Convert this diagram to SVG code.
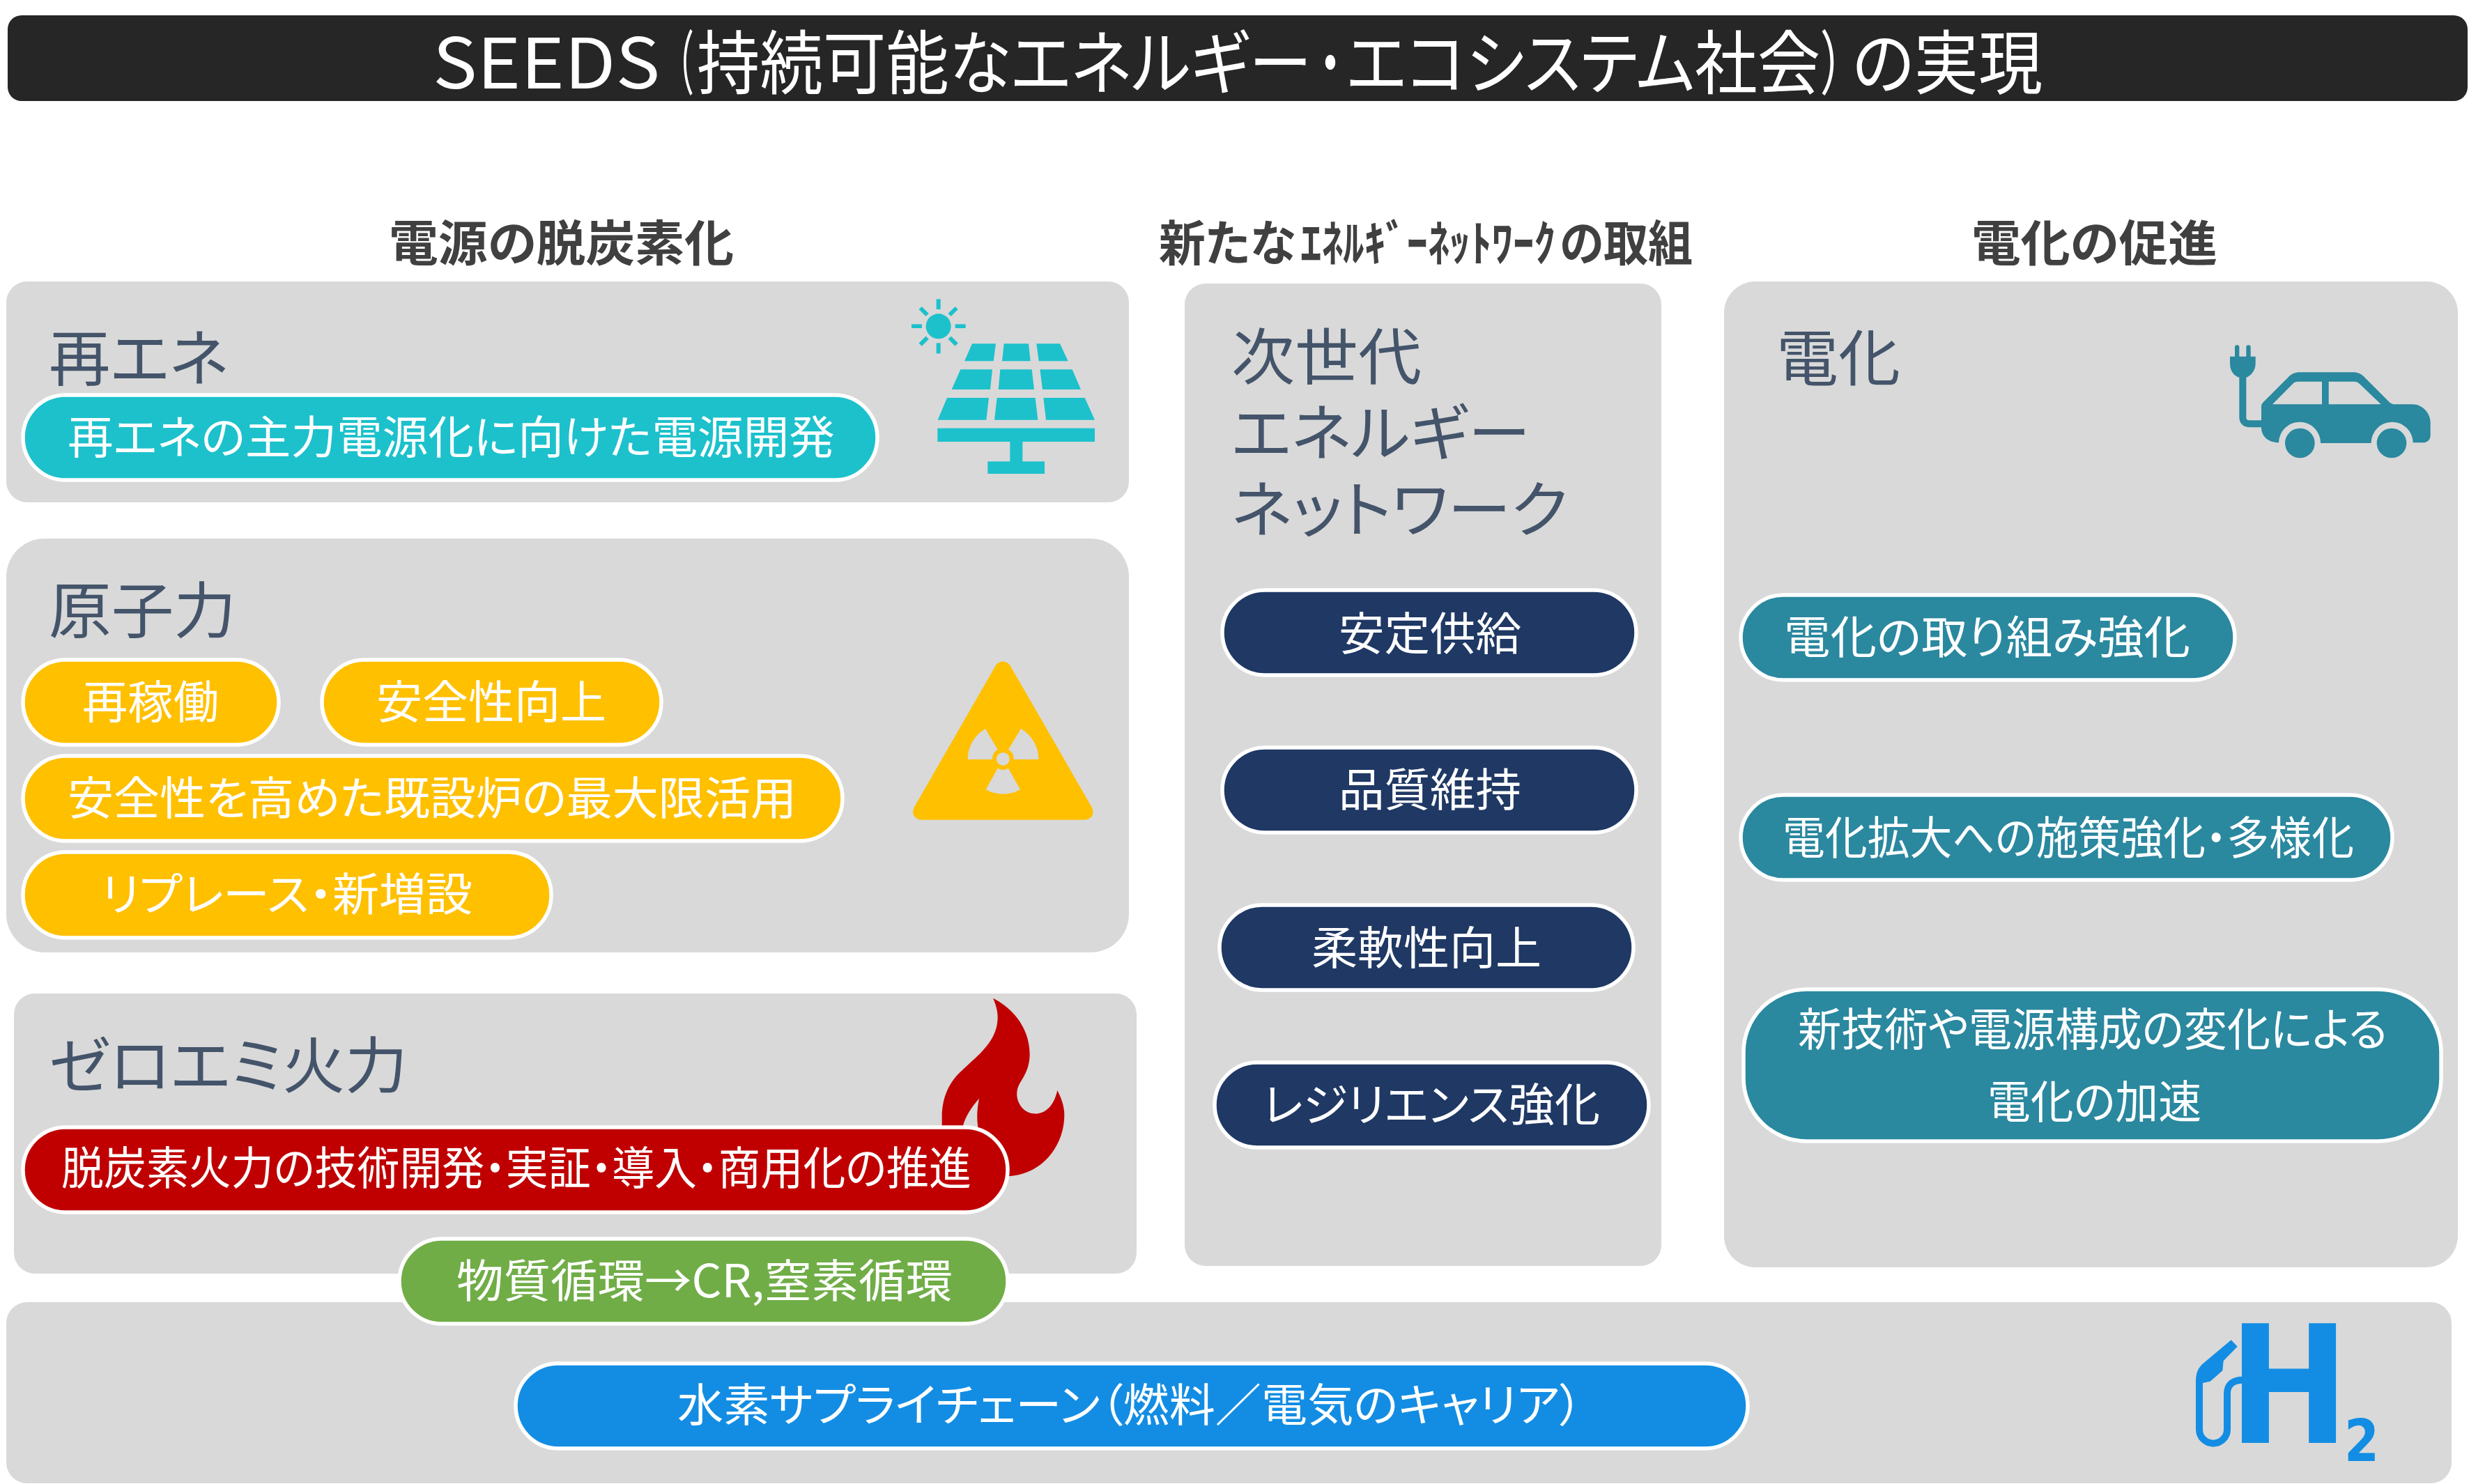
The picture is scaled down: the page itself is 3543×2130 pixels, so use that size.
<svg xmlns="http://www.w3.org/2000/svg" width="3543" height="2130" viewBox="0 0 3543 2130">
<style>
text{font-family:"Noto Sans CJK JP","Noto Sans",sans-serif;font-feature-settings:"palt";}
.panel{fill:#d9d9d9}
.pill{stroke:#fff;stroke-width:5.5}
.pt{fill:#fff;font-size:65px}
.hd{fill:#44546a;font-size:88px}
.sec{fill:#404040;font-size:70px;font-weight:700}
.ttl{fill:#fff;font-size:100px}
.teal{fill:#1cc1cc}.yel{fill:#ffc000}.red{fill:#c00000}.grn{fill:#70ad47}.blu{fill:#138de3}.nav{fill:#1f3864}.tea2{fill:#2a889f}
</style>
<rect width="3543" height="2130" fill="#fff"/>
<g id="title"><rect x="11" y="22" width="3530" height="123" rx="20" fill="#262626"/>
<text class="ttl" y="127"><tspan x="621" textLength="326" lengthAdjust="spacingAndGlyphs">SEEDS</tspan><tspan x="970" textLength="24" lengthAdjust="spacingAndGlyphs">（</tspan><tspan x="1000" textLength="882" lengthAdjust="spacingAndGlyphs">持続可能なエネルギー</tspan><tspan x="1892" textLength="34" lengthAdjust="spacingAndGlyphs">・</tspan><tspan x="1932" textLength="680" lengthAdjust="spacingAndGlyphs">エコシステム社会</tspan><tspan x="2614" textLength="32" lengthAdjust="spacingAndGlyphs">）</tspan><tspan x="2658" textLength="273" lengthAdjust="spacingAndGlyphs">の実現</tspan></text></g>
<g id="sections">
<text class="sec" x="558" y="375" textLength="495" lengthAdjust="spacingAndGlyphs">電源の脱炭素化</text>
<text class="sec" y="375"><tspan x="1663" textLength="196" lengthAdjust="spacingAndGlyphs">新たな</tspan><tspan x="1866" textLength="366" lengthAdjust="spacingAndGlyphs">ｴﾈﾙｷﾞｰﾈｯﾄﾜｰｸ</tspan><tspan x="2238" textLength="191" lengthAdjust="spacingAndGlyphs">の取組</tspan></text>
<text class="sec" x="2829" y="375" textLength="353" lengthAdjust="spacingAndGlyphs">電化の促進</text>
</g>
<g id="panel-renewable">
<rect class="panel" x="9" y="404" width="1611" height="317" rx="30"/>
<text class="hd" x="70" y="546" textLength="258" lengthAdjust="spacingAndGlyphs">再エネ</text>
<g transform="translate(1250,380) scale(.33333)" class="teal">
<circle cx="290" cy="265" r="54"/>
<rect x="281" y="148" width="18" height="44"/><rect x="281" y="337" width="18" height="45"/><rect x="174" y="256" width="45" height="17"/><rect x="362" y="256" width="45" height="17"/>
<path d="M212,186L242,216M368,186L338,216M212,344L242,314M368,344L338,314" stroke="#1cc1cc" stroke-width="18" fill="none"/>
<path d="M435,340H537L527,415H402ZM572,340H678L686,415H564ZM712,340H813L848,415H722ZM385,451H522L513,537H347ZM556,451H692L702,537H548ZM727,451H866L903,537H738ZM327,573H507L496,668H287ZM542,573H707L718,668H531ZM742,573H920L963,668H753Z"/>
<rect x="286" y="704" width="677" height="58"/><rect x="598" y="760" width="54" height="90"/><rect x="502" y="847" width="245" height="53"/>
</g>
<rect class="pill teal" x="33" y="567" width="1226" height="122" rx="61"/>
<text class="pt" x="97" y="651" textLength="1101" lengthAdjust="spacingAndGlyphs">再エネの主力電源化に向けた電源開発</text>
</g>
<g id="panel-nuclear">
<rect class="panel" x="9" y="773" width="1611" height="594" rx="55"/>
<text class="hd" x="70" y="908" textLength="269" lengthAdjust="spacingAndGlyphs">原子力</text>
<g transform="translate(1280,920) scale(.33333)">
<path class="yel" d="M445,108C460,82 495,82 510,108L857,710C878,745 858,770 825,770L130,770C100,770 78,745 98,712Z"/>
<path class="panel" d="M326,510A152,152 0 0 1 402,378L455,468A46,46 0 0 0 432,510ZM555,378A152,152 0 0 1 631,510L524,510A46,46 0 0 0 501,468ZM552,640A152,152 0 0 1 404,640L455,548A46,46 0 0 0 501,548Z"/>
<circle class="panel" cx="478" cy="508" r="28"/>
</g>
<rect class="pill yel" x="33" y="947" width="367" height="122" rx="61"/>
<text class="pt" x="118" y="1031" textLength="196" lengthAdjust="spacingAndGlyphs">再稼働</text>
<rect class="pill yel" x="462" y="947" width="487" height="122" rx="61"/>
<text class="pt" x="540" y="1031" textLength="330" lengthAdjust="spacingAndGlyphs">安全性向上</text>
<rect class="pill yel" x="33" y="1085" width="1176" height="122" rx="61"/>
<text class="pt" x="97" y="1169" textLength="1046" lengthAdjust="spacingAndGlyphs">安全性を高めた既設炉の最大限活用</text>
<rect class="pill yel" x="33" y="1223" width="758" height="123" rx="61"/>
<text class="pt" x="145" y="1307" textLength="533" lengthAdjust="spacingAndGlyphs">リプレース・新増設</text>
</g>
<g id="panel-thermal">
<rect class="panel" x="20" y="1426" width="1611" height="402" rx="30"/>
<text class="hd" x="70" y="1561" textLength="515" lengthAdjust="spacingAndGlyphs">ゼロエミ火力</text>
<g transform="translate(1300,1400) scale(.33333)">
<path class="red" d="M375,98C440,130 533,210 533,340C533,400 505,440 490,465C470,500 475,540 500,570C535,610 625,615 652,495C670,530 682,565 682,600C682,740 580,860 440,865L240,865L310,650C305,620 305,580 315,530C280,570 255,610 245,650L155,650L155,610C155,520 190,460 230,420C300,350 395,290 395,180C395,150 385,120 375,98Z"/>
</g>
<rect class="pill red" x="33" y="1618" width="1413" height="122" rx="61"/>
<text class="pt" x="88" y="1700" textLength="1306" lengthAdjust="spacingAndGlyphs">脱炭素火力の技術開発・実証・導入・商用化の推進</text>
</g>
<g id="panel-network">
<rect class="panel" x="1700" y="407" width="684" height="1410" rx="30"/>
<text class="hd" x="1767" y="544" textLength="273" lengthAdjust="spacingAndGlyphs">次世代</text>
<text class="hd" x="1767" y="653" textLength="429" lengthAdjust="spacingAndGlyphs">エネルギー</text>
<text class="hd" x="1767" y="763" textLength="483" lengthAdjust="spacingAndGlyphs">ネットワーク</text>
<rect class="pill nav" x="1754" y="847" width="594" height="122" rx="61"/>
<text class="pt" x="1921" y="933" textLength="262" lengthAdjust="spacingAndGlyphs">安定供給</text>
<rect class="pill nav" x="1754" y="1073" width="594" height="122" rx="61"/>
<text class="pt" x="1921" y="1157" textLength="262" lengthAdjust="spacingAndGlyphs">品質維持</text>
<rect class="pill nav" x="1750" y="1299" width="594" height="122" rx="61"/>
<text class="pt" x="1882" y="1384" textLength="330" lengthAdjust="spacingAndGlyphs">柔軟性向上</text>
<rect class="pill nav" x="1743" y="1525" width="623" height="122" rx="61"/>
<text class="pt" x="1812" y="1609" textLength="484" lengthAdjust="spacingAndGlyphs">レジリエンス強化</text>
</g>
<g id="panel-electrification">
<rect class="panel" x="2474" y="404" width="1053" height="1415" rx="45"/>
<text class="hd" x="2549" y="546" textLength="178" lengthAdjust="spacingAndGlyphs">電化</text>
<g transform="translate(3130,450) scale(.33333)">
<path class="tea2" fill-rule="evenodd" d="M345,400C345,390 350,385 355,380L460,275C475,260 490,253 510,253L740,253C760,253 775,260 790,275L895,380C903,388 910,391 925,391L995,391C1040,391 1073,430 1073,470L1073,525C1073,545 1058,556 1040,556L998,556A90,90 0 0 0 818,558L600,558A90,90 0 0 0 420,556C375,556 345,530 345,490ZM393,391L480,303C487,296 493,293 503,293L606,293L606,391ZM635,293L745,293C755,293 760,295 768,303L860,391L635,391Z"/>
<circle class="tea2" cx="511" cy="558" r="64"/><circle class="tea2" cx="906" cy="558" r="64"/>
<rect class="tea2" x="231" y="136" width="19" height="60" rx="9"/><rect class="tea2" x="280" y="136" width="19" height="60" rx="9"/>
<path class="tea2" d="M210,185L320,185L320,215C320,250 295,270 280,275L250,275C230,270 210,250 210,215Z"/>
<path d="M265,270L265,445Q265,475 295,475L350,475" fill="none" stroke="#2a889f" stroke-width="30"/>
</g>
<rect class="pill tea2" x="2498" y="854" width="709" height="122" rx="61"/>
<text class="pt" x="2560" y="938" textLength="583" lengthAdjust="spacingAndGlyphs">電化の取り組み強化</text>
<rect class="pill tea2" x="2498" y="1141" width="935" height="122" rx="61"/>
<text class="pt" x="2558" y="1226" textLength="820" lengthAdjust="spacingAndGlyphs">電化拡大への施策強化・多様化</text>
<rect class="pill tea2" x="2502" y="1420" width="1001" height="218" rx="90"/>
<text class="pt" x="2580" y="1501" textLength="846" lengthAdjust="spacingAndGlyphs">新技術や電源構成の変化による</text>
<text class="pt" x="2852" y="1605" textLength="307" lengthAdjust="spacingAndGlyphs">電化の加速</text>
</g>
<g id="panel-hydrogen">
<rect class="panel" x="9" y="1869" width="3509" height="260" rx="30"/>
<g transform="translate(3120,1870) scale(.33333)">
<path class="blu" d="M245,160L272,188L212,250L208,292L155,338L123,345L93,340C93,300 105,280 120,265Z"/>
<path d="M108,330L108,545A60,60 0 0 0 228,545L228,390C228,350 255,332 295,332" fill="none" stroke="#138de3" stroke-width="30"/>
</g>
<text class="blu" x="3198" y="2071" font-size="235" font-weight="700" textLength="173" lengthAdjust="spacingAndGlyphs" style="font-family:'DejaVu Sans',sans-serif">H</text>
<text class="blu" x="3364" y="2097" font-size="84" font-weight="700" textLength="50" lengthAdjust="spacingAndGlyphs" style="font-family:'DejaVu Sans',sans-serif">2</text>
<rect class="pill blu" x="740" y="1957" width="1768" height="122" rx="61"/>
<text class="pt" x="972" y="2040" textLength="1299" lengthAdjust="spacingAndGlyphs">水素サプライチェーン（燃料／電気のキャリア）</text>
</g>
<g id="pill-material">
<rect class="pill grn" x="573" y="1778" width="873" height="122" rx="61"/>
<text class="pt" x="655" y="1862" textLength="712" lengthAdjust="spacingAndGlyphs">物質循環→CR,窒素循環</text>
</g>
<g id="connectors"/>
</svg>
